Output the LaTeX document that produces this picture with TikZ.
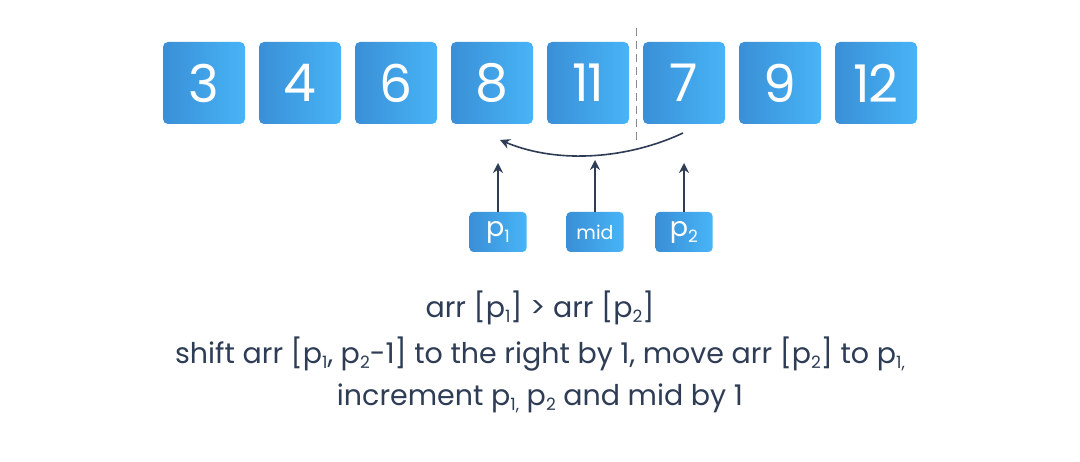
\documentclass[tikz,border=0pt]{standalone}
\usepackage{fontspec}
\setmainfont{Poppins}
\usetikzlibrary{arrows.meta}
\definecolor{ink}{HTML}{2E3D55}
\definecolor{bL}{HTML}{3A8FD6}
\definecolor{bR}{HTML}{48B4F7}
\tikzset{
 cell/.style={rounded corners=5pt,left color=bL,right color=bR,draw=none,minimum width=82pt,minimum height=82pt,text=white,font=\fontsize{52}{52}\selectfont\addfontfeatures{LetterSpace=-4},inner sep=0pt},
 tag/.style={rounded corners=4pt,left color=bL,right color=bR,draw=none,minimum width=57pt,minimum height=40pt,text=white,font=\fontsize{27}{27}\selectfont,inner sep=0pt},
 arr/.style={draw=ink,line width=1.6pt,-{Stealth[length=10pt,width=10pt]}},
 caption/.style={text=ink,font=\fontsize{28.5}{28.5}\selectfont}
}
\begin{document}
\begin{tikzpicture}[x=1pt,y=-1pt]
\useasboundingbox[fill=white] (0,0) rectangle (1080,462);
\foreach \v [count=\i] in {3,4,6,8,11,7,9,12}{
  \node[cell] (c\i) at ({204+96*(\i-1)},83) {\v};
}
\draw[draw=ink!60,line width=1pt,dash pattern=on 8pt off 5pt] (636,28) coordinate (dt) -- (636,140) coordinate (db);
\draw[arr] (683,133) coordinate (s) .. controls (630,158) and (560,165) .. (500,140) coordinate (e);
\node[tag] (t1) at (498,232) {p\raisebox{-6pt}{\fontsize{17}{17}\selectfont 1}};
\node[tag,font=\fontsize{19}{19}\selectfont] (t2) at (595,232) {mid};
\node[tag] (t3) at (684,232) {p\raisebox{-6pt}{\fontsize{17}{17}\selectfont 2}};
\coordinate (u1) at (498,163);
\coordinate (u2) at (595,160);
\coordinate (u3) at (684,163);
\draw[arr] (t1.north) -- (u1);
\draw[arr] (t2.north) -- (u2);
\draw[arr] (t3.north) -- (u3);
\newcommand{\sbx}[1]{\raisebox{-5pt}{\fontsize{17}{17}\selectfont #1}}
\node[caption] (l1) at (540,308) {arr [p\sbx{1}] > arr [p\sbx{2}]};
\node[caption] (l2) at (540,354) {shift arr [p\sbx{1}, p\sbx{2}-1] to the right by 1, move arr [p\sbx{2}] to p\sbx{1,}};
\node[caption] (l3) at (540,398) {increment p\sbx{1,} p\sbx{2} and mid by 1};
\end{tikzpicture}
\end{document}
